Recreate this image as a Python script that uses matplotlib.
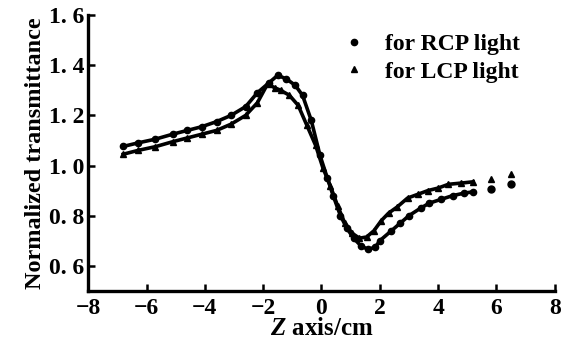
import matplotlib
matplotlib.use("Agg")
import matplotlib.pyplot as plt
from matplotlib.ticker import FixedLocator, FixedFormatter

# Data
rcp_z = [-6.8, -6.3, -5.7, -5.1, -4.6, -4.1, -3.6, -3.1, -2.6, -2.2,
         -1.8, -1.5, -1.2, -0.9, -0.65, -0.35, -0.05, 0.2, 0.4, 0.65,
         0.87, 1.1, 1.35, 1.6, 1.85, 2.0, 2.4, 2.7, 3.0, 3.4,
         3.7, 4.1, 4.5, 4.9, 5.2]
rcp_t = [1.076, 1.09, 1.105, 1.125, 1.14, 1.155, 1.175, 1.20, 1.235, 1.29,
         1.33, 1.36, 1.345, 1.32, 1.28, 1.18, 1.04, 0.95, 0.88, 0.80,
         0.75, 0.71, 0.68, 0.665, 0.675, 0.70, 0.74, 0.77, 0.80, 0.83,
         0.85, 0.865, 0.88, 0.89, 0.895]

lcp_z = [-6.8, -6.3, -5.7, -5.1, -4.6, -4.1, -3.6, -3.1, -2.6, -2.2,
         -1.85, -1.6, -1.4, -1.1, -0.8, -0.5, -0.2, 0.05, 0.3, 0.55,
         0.8, 1.05, 1.3, 1.55, 1.8, 2.05, 2.3, 2.6, 2.95, 3.3,
         3.65, 4.0, 4.35, 4.8, 5.2]
lcp_t = [1.045, 1.06, 1.075, 1.095, 1.11, 1.125, 1.14, 1.165, 1.20, 1.25,
         1.325, 1.31, 1.30, 1.28, 1.24, 1.16, 1.08, 0.99, 0.92, 0.84,
         0.77, 0.73, 0.71, 0.715, 0.74, 0.78, 0.81, 0.835, 0.87, 0.885,
         0.90, 0.91, 0.925, 0.93, 0.935]

# isolated points past the end of the curves
rcp_tail_z = [5.8, 6.5]
rcp_tail_t = [0.905, 0.925]
lcp_tail_z = [5.8, 6.5]
lcp_tail_t = [0.945, 0.965]

x_ticks = [-8, -6, -4, -2, 0, 2, 4, 6, 8]
x_labels = ["\u22128", "\u22126", "\u22124", "\u22122", "0", "2", "4", "6", "8"]
y_ticks = [0.6, 0.8, 1.0, 1.2, 1.4, 1.6]
y_labels = ["0. 6", "0. 8", "1. 0", "1. 2", "1. 4", "1. 6"]

plt.rcParams["font.family"] = ["Liberation Serif", "DejaVu Serif"]
plt.rcParams["font.weight"] = "bold"
plt.rcParams["mathtext.fontset"] = "custom"
plt.rcParams["mathtext.it"] = "Liberation Serif:italic:bold"

fig = plt.figure(figsize=(5.69, 3.43), dpi=100)
ax = fig.add_axes([0.155, 0.152, 0.82, 0.804])

ax.plot(rcp_z, rcp_t, color="black", lw=2.6, marker="o", ms=4.5,
        label="for RCP light")
ax.plot(lcp_z, lcp_t, color="black", lw=2.6, marker="^", ms=4.5,
        label="for LCP light")
ax.plot(rcp_tail_z, rcp_tail_t, ls="none", color="black", marker="o", ms=5)
ax.plot(lcp_tail_z, lcp_tail_t, ls="none", color="black", marker="^", ms=5)

ax.set_xlim(-8, 8)
ax.set_ylim(0.5, 1.6)
ax.xaxis.set_major_locator(FixedLocator(x_ticks))
ax.xaxis.set_major_formatter(FixedFormatter(x_labels))
ax.yaxis.set_major_locator(FixedLocator(y_ticks))
ax.yaxis.set_major_formatter(FixedFormatter(y_labels))

for side in ["top", "right"]:
    ax.spines[side].set_visible(False)
for side in ["left", "bottom"]:
    ax.spines[side].set_linewidth(2.4)

ax.tick_params(direction="in", length=5, width=1.8, labelsize=17, pad=3)
ax.tick_params(axis="x", pad=5)
ax.set_xlabel("$Z$ axis/cm", fontsize=18, fontweight="bold", labelpad=-1)
ax.set_ylabel("Normalized transmittance", fontsize=17.5, fontweight="bold",
              labelpad=2)

leg = ax.legend(loc="upper right", bbox_to_anchor=(0.97, 1.01), frameon=False,
                fontsize=17, handlelength=0.8, handletextpad=0.9,
                labelspacing=0.25, markerscale=1.0)
for h in leg.legend_handles:
    h.set_linestyle("none")

fig.savefig("out.png", dpi=100)
